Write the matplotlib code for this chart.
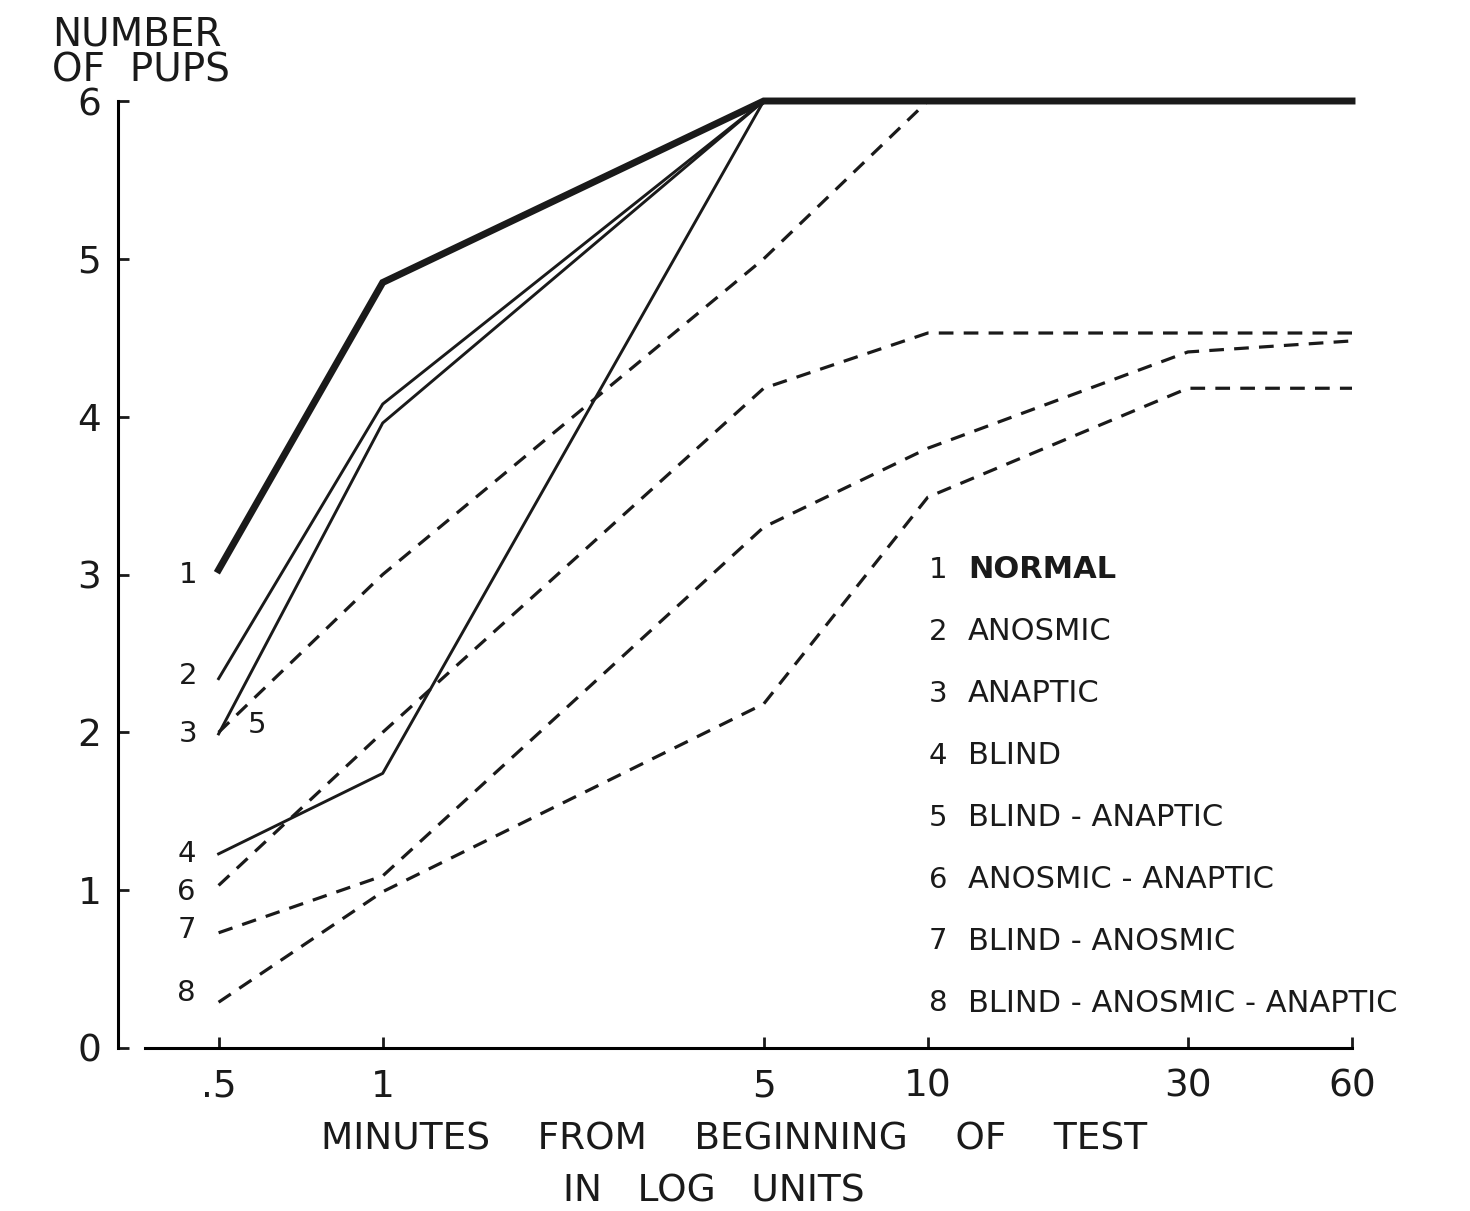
import numpy as np
import matplotlib
matplotlib.use('Agg')
import matplotlib.pyplot as plt
from matplotlib.ticker import FixedLocator, FixedFormatter, NullLocator

# minutes from beginning of test (log axis)
minutes = [0.5, 1, 5, 10, 30, 60]
tick_labels = ['.5', '1', '5', '10', '30', '60']

# number of pups retrieved
normal = [3.03, 4.85, 6.0, 6.0, 6.0, 6.0]
anosmic = [2.34, 4.08, 6.0, 6.0, 6.0, 6.0]
anaptic = [1.99, 3.96, 6.0, 6.0, 6.0, 6.0]
blind = [1.23, 1.74, 6.0, 6.0, 6.0, 6.0]
blind_anaptic = [2.0, 3.0, 5.0, 6.0, 6.0, 6.0]
anosmic_anaptic = [1.03, 2.0, 4.18, 4.53, 4.53, 4.53]
blind_anosmic = [0.73, 1.09, 3.30, 3.80, 4.41, 4.48]
blind_anosmic_anaptic = [0.29, 0.99, 2.18, 3.49, 4.18, 4.18]

group_names = ['NORMAL', 'ANOSMIC', 'ANAPTIC', 'BLIND', 'BLIND - ANAPTIC',
               'ANOSMIC - ANAPTIC', 'BLIND - ANOSMIC', 'BLIND - ANOSMIC - ANAPTIC']

W, H = 1470, 1211


def fx(px):
    return px / W


def fy(py):
    return 1 - py / H


plt.rcParams['font.family'] = 'DejaVu Sans'
ink = '#1a1a1a'

fig = plt.figure(figsize=(W / 100, H / 100), dpi=100)
ax = fig.add_axes([fx(145), fy(1048), fx(1352) - fx(145), fy(101) - fy(1048)])

series = [normal, anosmic, anaptic, blind, blind_anaptic, anosmic_anaptic,
          blind_anosmic, blind_anosmic_anaptic]

dash = (0, (4.6, 3.2))
for k, vals in enumerate(series):
    if k == 0:
        ax.plot(minutes, vals, color=ink, lw=5, solid_joinstyle='miter', zorder=5, clip_on=False)
    elif k < 4:
        ax.plot(minutes[:3], vals[:3], color=ink, lw=2.1, zorder=4, clip_on=False)
    else:
        ax.plot(minutes, vals, color=ink, lw=2.3, linestyle=dash, zorder=3, clip_on=False)

# numbers next to the start of each curve
lab_off = [(-22, -4), (-22, 2), (-22, 0), (-23, 0), (28, 5), (-23, -5), (-23, 2), (-23, 7)]
for k, vals in enumerate(series):
    ax.annotate(str(k + 1), xy=(minutes[0], vals[0]), xytext=lab_off[k],
                textcoords='offset points', ha='center', va='center',
                fontsize=21, color=ink)

ax.set_xscale('log')
ax.set_xlim(0.3664, 60)
ax.set_ylim(0, 6)
ax.xaxis.set_major_locator(FixedLocator(minutes))
ax.xaxis.set_major_formatter(FixedFormatter(tick_labels))
ax.xaxis.set_minor_locator(NullLocator())
ax.set_yticks(range(7))

for s in ['top', 'right']:
    ax.spines[s].set_visible(False)
ax.spines['left'].set_position(('outward', 19.5))
ax.spines['left'].set_bounds(0, 6)
ax.spines['left'].set_linewidth(2.2)
ax.spines['bottom'].set_linewidth(2.2)
ax.tick_params(axis='both', direction='in', length=8, width=2, colors=ink,
               labelsize=27)
ax.tick_params(axis='y', pad=12)
ax.tick_params(axis='x', pad=15)

# axis titles
fig.text(fx(52), fy(45), 'NUMBER', fontsize=28, color=ink, va='baseline')
fig.text(fx(52), fy(82), 'OF  PUPS', fontsize=28, color=ink, va='baseline')
fig.text(fx(734), fy(1140), 'MINUTES    FROM    BEGINNING    OF    TEST', fontsize=27,
         color=ink, ha='center', va='center')
fig.text(fx(714), fy(1192), 'IN   LOG   UNITS', fontsize=27, color=ink,
         ha='center', va='center')

# numbered key
for i, name in enumerate(group_names):
    yy = 570 + 61.9 * i
    fig.text(fx(938), fy(yy), str(i + 1), fontsize=21, color=ink, ha='center', va='center')
    fig.text(fx(968), fy(yy), name, fontsize=22, color=ink, ha='left', va='center',
             fontweight='bold' if i == 0 else 'normal')

fig.savefig('out.png', dpi=100, facecolor='white')
